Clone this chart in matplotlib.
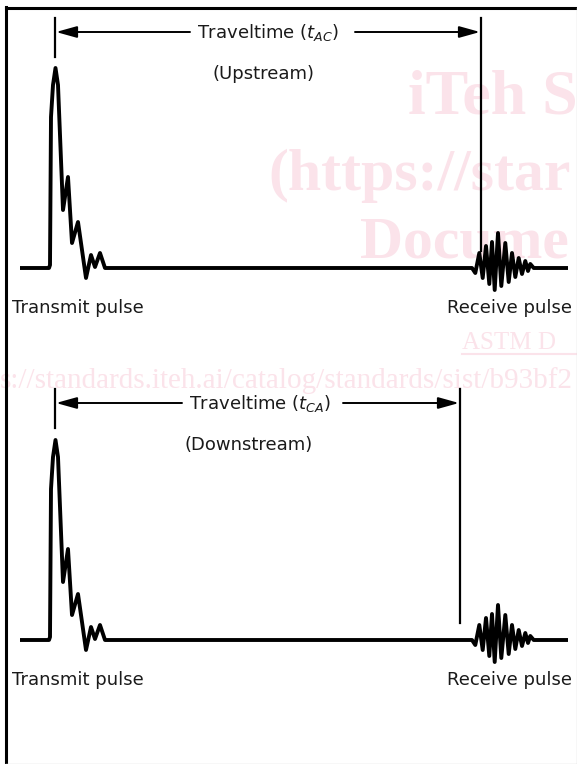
import matplotlib.pyplot as plt

# transmit pulse: time offset from onset, amplitude above baseline
tx_t = [0, 1, 2, 4, 6.5, 9, 14, 19, 23, 29, 37, 42, 46, 51, 56]
tx_amp = [0, 3, 151, 183, 200, 183, 58, 91, 25, 46, -10, 13, 1, 15, 0]

# receive pulse (wavelet)
rx_t = [0, 3.3, 7.3, 10.7, 14, 17.3, 20, 22.7, 26, 29.3, 33.3, 36.7, 40, 43.3,
        46.7, 50, 53.3, 56, 58.3, 61.7]
rx_amp = [0, -5, 15, -10, 22, -16, 26, -22, 35, -18, 25, -14, 15, -9,
          10, -6, 7, -3, 4, 0]

trace_start, trace_end = 20, 568
tx_onset = 49
rx_onset = 472
pick_start = 55
pick_end = [481, 460]          # upstream, downstream
travel_labels = ['Traveltime ($t_{AC}$)', 'Traveltime ($t_{CA}$)']
dir_labels = ['(Upstream)', '(Downstream)']

plt.rcParams['mathtext.fontset'] = 'dejavusans'

fig = plt.figure(figsize=(5.77, 7.64), dpi=100)
ax = fig.add_axes([0, 0, 1, 1])
ax.set_xlim(0, 577)
ax.set_ylim(764, 0)
ax.axis('off')

txtc = '#1a1a1a'
pink = '#fbe3ea'

# watermark
wm = dict(color=pink, family='Liberation Serif', va='baseline', ha='left', zorder=0)
ax.text(408, 113, 'iTeh S', fontsize=46, weight='bold', **wm)
ax.text(268, 190, '(https://star', fontsize=43, weight='bold', **wm)
ax.text(360, 257, 'Docume', fontsize=43, weight='bold', **wm)
ax.text(462, 349, 'ASTM D', fontsize=18, **wm)
ax.plot([462, 577], [354, 354], color=pink, lw=1.5, zorder=0)
ax.text(0, 388, 's://standards.iteh.ai/catalog/standards/sist/b93bf2', fontsize=21, **wm)

# frame
ax.plot([6, 6], [7, 764], color='k', lw=2.2)
ax.plot([6, 577], [8, 8], color='k', lw=2.2)
ax.plot([576.5, 576.5], [8, 764], color='#d8d8d8', lw=1)
ax.plot([6, 577], [763.5, 763.5], color='#d8d8d8', lw=1)


def draw_panel(base, arrow_y, i, left_end, right_start, text_x, dir_x):
    xs = [trace_start] + [tx_onset + t for t in tx_t] + [rx_onset + t for t in rx_t] + [trace_end]
    ys = [0] + tx_amp + rx_amp + [0]
    ax.plot(xs, [base - a for a in ys], color='k', lw=2.8,
            solid_joinstyle='round', solid_capstyle='butt', zorder=3)

    # traveltime markers
    ax.plot([pick_start, pick_start], [arrow_y - 14, arrow_y + 25], color='k', lw=1.6)
    ax.plot([pick_end[i], pick_end[i]], [arrow_y - 14, base - 17], color='k', lw=1.6)
    ap = dict(arrowstyle='-|>,head_length=0.9,head_width=0.25', color='k', lw=1.4,
              shrinkA=0, shrinkB=0, mutation_scale=14)
    ax.annotate('', xy=(pick_start + 1, arrow_y), xytext=(left_end, arrow_y), arrowprops=ap)
    ax.annotate('', xy=(pick_end[i] - 1, arrow_y), xytext=(right_start, arrow_y), arrowprops=ap)

    ax.text(text_x, arrow_y + 6, travel_labels[i], fontsize=13, color=txtc, va='baseline')
    ax.text(dir_x, arrow_y + 47, dir_labels[i], fontsize=13, color=txtc, va='baseline')
    ax.text(12, base + 45, 'Transmit pulse', fontsize=13, color=txtc, va='baseline')
    ax.text(447, base + 45, 'Receive pulse', fontsize=13, color=txtc, va='baseline')


draw_panel(268, 32, 0, 190, 355, 197, 213)
draw_panel(640, 403, 1, 182, 343, 189, 185)

fig.savefig('out.png', dpi=100)
